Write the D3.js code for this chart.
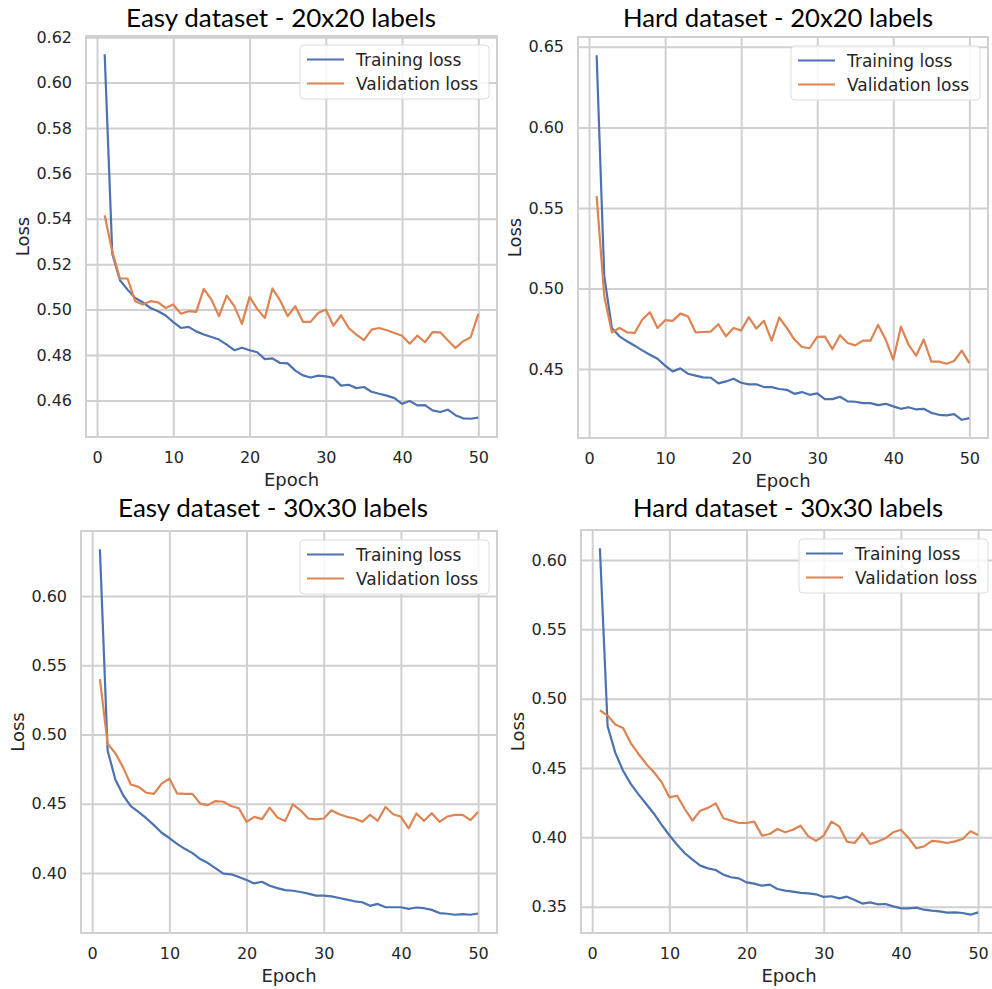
<!DOCTYPE html>
<html>
<head>
<meta charset="utf-8">
<script src="https://cdn.jsdelivr.net/npm/d3@7"></script>
<style>
  body { margin: 0; background: #fff; }
  svg { display: block; }
</style>
</head>
<body>
<div id="chart"></div>
<script>
// values (epochs 1..50)
const titles = [
  'Easy dataset - 20x20 labels',
  'Hard dataset - 20x20 labels',
  'Easy dataset - 30x30 labels',
  'Hard dataset - 30x30 labels'
];
const seriesNames = ['Training loss', 'Validation loss'];
const xTicks = [0, 10, 20, 30, 40, 50];

const easy20Train = [
  0.6125, 0.5245, 0.5129, 0.5088, 0.5051, 0.5032, 0.5007, 0.4993, 0.4974, 0.4945,
  0.4919, 0.4924, 0.4904, 0.4890, 0.4879, 0.4868, 0.4846, 0.4821, 0.4832, 0.4821,
  0.4812, 0.4782, 0.4785, 0.4765, 0.4763, 0.4731, 0.4710, 0.4701, 0.4709, 0.4706,
  0.4699, 0.4665, 0.4669, 0.4654, 0.4659, 0.4638, 0.4629, 0.4621, 0.4610, 0.4585,
  0.4597, 0.4578, 0.4579, 0.4556, 0.4549, 0.4559, 0.4535, 0.4521, 0.4519, 0.4524
];
const easy20Val = [
  0.5416, 0.5255, 0.5137, 0.5137, 0.5037, 0.5022, 0.5037, 0.5032, 0.5007, 0.5022,
  0.4982, 0.4993, 0.4990, 0.5091, 0.5044, 0.4971, 0.5062, 0.5015, 0.4937, 0.5056,
  0.5003, 0.4963, 0.5093, 0.5041, 0.4971, 0.5015, 0.4946, 0.4946, 0.4985, 0.5000,
  0.4929, 0.4975, 0.4919, 0.4890, 0.4865, 0.4912, 0.4919, 0.4909, 0.4897, 0.4885,
  0.4850, 0.4885, 0.4856, 0.4901, 0.4900, 0.4865, 0.4831, 0.4860, 0.4878, 0.4981
];
const hard20Train = [
  0.6448, 0.5077, 0.4755, 0.4703, 0.4672, 0.4645, 0.4616, 0.4589, 0.4564, 0.4521,
  0.4485, 0.4504, 0.4471, 0.4459, 0.4448, 0.4446, 0.4411, 0.4423, 0.4440, 0.4415,
  0.4405, 0.4405, 0.4388, 0.4388, 0.4376, 0.4371, 0.4346, 0.4357, 0.4340, 0.4349,
  0.4313, 0.4313, 0.4328, 0.4299, 0.4297, 0.4288, 0.4288, 0.4276, 0.4284, 0.4268,
  0.4253, 0.4263, 0.4249, 0.4253, 0.4228, 0.4216, 0.4212, 0.4220, 0.4185, 0.4195
];
const hard20Val = [
  0.5573, 0.4952, 0.4728, 0.4755, 0.4728, 0.4724, 0.4807, 0.4853, 0.4755, 0.4803,
  0.4799, 0.4844, 0.4828, 0.4728, 0.4730, 0.4732, 0.4778, 0.4703, 0.4755, 0.4739,
  0.4822, 0.4751, 0.4799, 0.4676, 0.4820, 0.4755, 0.4683, 0.4637, 0.4629, 0.4699,
  0.4701, 0.4624, 0.4710, 0.4662, 0.4647, 0.4676, 0.4676, 0.4774, 0.4683, 0.4558,
  0.4763, 0.4651, 0.4583, 0.4683, 0.4546, 0.4546, 0.4533, 0.4550, 0.4614, 0.4537
];
const easy30Train = [
  0.6337, 0.4884, 0.4674, 0.4562, 0.4483, 0.4440, 0.4395, 0.4345, 0.4290, 0.4252,
  0.4210, 0.4174, 0.4143, 0.4100, 0.4071, 0.4033, 0.3995, 0.3990, 0.3971, 0.3948,
  0.3924, 0.3936, 0.3907, 0.3890, 0.3876, 0.3871, 0.3862, 0.3850, 0.3836, 0.3836,
  0.3831, 0.3819, 0.3807, 0.3795, 0.3788, 0.3762, 0.3776, 0.3752, 0.3752, 0.3752,
  0.3740, 0.3750, 0.3745, 0.3733, 0.3710, 0.3705, 0.3698, 0.3702, 0.3698, 0.3707
];
const easy30Val = [
  0.5399, 0.4933, 0.4864, 0.4762, 0.4638, 0.4621, 0.4579, 0.4571, 0.4645, 0.4681,
  0.4574, 0.4571, 0.4571, 0.4500, 0.4490, 0.4519, 0.4514, 0.4483, 0.4467, 0.4369,
  0.4405, 0.4388, 0.4471, 0.4400, 0.4374, 0.4495, 0.4452, 0.4393, 0.4386, 0.4393,
  0.4452, 0.4424, 0.4405, 0.4393, 0.4369, 0.4419, 0.4376, 0.4476, 0.4424, 0.4405,
  0.4321, 0.4429, 0.4376, 0.4431, 0.4369, 0.4407, 0.4419, 0.4419, 0.4381, 0.4440
];
const hard30Train = [
  0.6084, 0.4801, 0.4609, 0.4480, 0.4385, 0.4310, 0.4240, 0.4170, 0.4090, 0.4015,
  0.3946, 0.3885, 0.3839, 0.3796, 0.3776, 0.3764, 0.3731, 0.3712, 0.3704, 0.3675,
  0.3666, 0.3651, 0.3659, 0.3627, 0.3615, 0.3608, 0.3599, 0.3596, 0.3589, 0.3570,
  0.3575, 0.3560, 0.3572, 0.3548, 0.3522, 0.3531, 0.3517, 0.3519, 0.3502, 0.3488,
  0.3488, 0.3493, 0.3478, 0.3471, 0.3466, 0.3457, 0.3459, 0.3454, 0.3442, 0.3459
];
const hard30Val = [
  0.4916, 0.4878, 0.4813, 0.4789, 0.4680, 0.4601, 0.4529, 0.4469, 0.4397, 0.4288,
  0.4300, 0.4204, 0.4120, 0.4192, 0.4212, 0.4245, 0.4137, 0.4120, 0.4103, 0.4103,
  0.4113, 0.4012, 0.4024, 0.4060, 0.4036, 0.4055, 0.4084, 0.4007, 0.3974, 0.4012,
  0.4113, 0.4079, 0.3969, 0.3959, 0.4029, 0.3952, 0.3969, 0.3993, 0.4036, 0.4055,
  0.3995, 0.3921, 0.3935, 0.3974, 0.3969, 0.3959, 0.3971, 0.3988, 0.4043, 0.4017
];

const yTicksEasy20 = [0.46, 0.48, 0.50, 0.52, 0.54, 0.56, 0.58, 0.60, 0.62];
const yTicksHard20 = [0.45, 0.50, 0.55, 0.60, 0.65];
const yTicksEasy30 = [0.40, 0.45, 0.50, 0.55, 0.60];
const yTicksHard30 = [0.35, 0.40, 0.45, 0.50, 0.55, 0.60];

const colors = ['#4c72b0', '#dd8452'];
const textColor = '#262626';
const gridColor = '#d0d0d0';

// each subplot was saved separately, so every one has its own frame
const panels = [
  { title: titles[0], series: [easy20Train, easy20Val], yTicks: yTicksEasy20,
    box: { left: 86, top: 36, right: 497, bottom: 437 }, titleX: 281, titleY: 17 },
  { title: titles[1], series: [hard20Train, hard20Val], yTicks: yTicksHard20,
    box: { left: 578, top: 37, right: 988, bottom: 438 }, titleX: 778, titleY: 17 },
  { title: titles[2], series: [easy30Train, easy30Val], yTicks: yTicksEasy30,
    box: { left: 81, top: 531, right: 497, bottom: 933 }, titleX: 273, titleY: 507 },
  { title: titles[3], series: [hard30Train, hard30Val], yTicks: yTicksHard30,
    box: { left: 581, top: 530, right: 997, bottom: 933 }, titleX: 788, titleY: 507 }
];

const svg = d3.select('#chart')
  .append('svg')
  .attr('width', 992)
  .attr('height', 989)
  .style('font-family', '"DejaVu Sans", sans-serif');

panels.forEach((p) => {
  const b = p.box;
  const n = p.series[0].length;
  const all = p.series.flat();
  const [lo, hi] = d3.extent(all);
  const pad = (hi - lo) * 0.05;
  const xPad = (n - 1) * 0.05;

  const x = d3.scaleLinear().domain([1 - xPad, n + xPad]).range([b.left, b.right]);
  const y = d3.scaleLinear().domain([lo - pad, hi + pad]).range([b.bottom, b.top]);

  const g = svg.append('g');

  // X grid + tick labels
  g.append('g')
    .attr('transform', `translate(0, ${b.bottom})`)
    .call(d3.axisBottom(x).tickValues(xTicks).tickSize(-(b.bottom - b.top)).tickPadding(15).tickFormat(d3.format('d')))
    .call((a) => a.select('.domain').remove())
    .call((a) => a.selectAll('line').attr('stroke', gridColor).attr('stroke-width', 2))
    .call((a) => a.selectAll('text').attr('fill', textColor).style('font-size', '16px').style('font-family', '"DejaVu Sans", sans-serif'));

  // Y grid + tick labels
  g.append('g')
    .attr('transform', `translate(${b.left}, 0)`)
    .call(d3.axisLeft(y).tickValues(p.yTicks).tickSize(-(b.right - b.left)).tickPadding(14).tickFormat(d3.format('.2f')))
    .call((a) => a.select('.domain').remove())
    .call((a) => a.selectAll('line').attr('stroke', gridColor).attr('stroke-width', 2))
    .call((a) => a.selectAll('text').attr('fill', textColor).style('font-size', '16px').style('font-family', '"DejaVu Sans", sans-serif'));

  // frame
  g.append('rect')
    .attr('x', b.left)
    .attr('y', b.top)
    .attr('width', b.right - b.left)
    .attr('height', b.bottom - b.top)
    .attr('fill', 'none')
    .attr('stroke', gridColor)
    .attr('stroke-width', 2);

  // loss curves
  const line = d3.line().x((d, i) => x(i + 1)).y((d) => y(d));
  p.series.forEach((s, k) => {
    g.append('path')
      .datum(s)
      .attr('fill', 'none')
      .attr('stroke', colors[k])
      .attr('stroke-width', 2.2)
      .attr('stroke-linejoin', 'round')
      .attr('d', line);
  });

  // axis labels
  g.append('text')
    .attr('x', (b.left + b.right) / 2)
    .attr('y', b.bottom + 42)
    .attr('text-anchor', 'middle')
    .attr('dominant-baseline', 'central')
    .attr('fill', textColor)
    .style('font-size', '18px')
    .text('Epoch');

  g.append('text')
    .attr('transform', `translate(${b.left - 64}, ${(b.top + b.bottom) / 2}) rotate(-90)`)
    .attr('text-anchor', 'middle')
    .attr('dominant-baseline', 'central')
    .attr('fill', textColor)
    .style('font-size', '18px')
    .text('Loss');

  // title
  g.append('text')
    .attr('x', p.titleX)
    .attr('y', p.titleY)
    .attr('text-anchor', 'middle')
    .attr('dominant-baseline', 'central')
    .attr('fill', '#000')
    .style('font-family', 'Lato, "Open Sans", sans-serif')
    .style('font-size', '25px')
    .attr('textLength', 310)
    .attr('lengthAdjust', 'spacingAndGlyphs')
    .text(p.title);

  // legend, upper right
  const lw = 189, lh = 54;
  const lx = Math.min(b.right, 996) - 8 - lw;
  const ly = b.top + 9;
  const leg = g.append('g').attr('transform', `translate(${lx}, ${ly})`);
  leg.append('rect')
    .attr('width', lw)
    .attr('height', lh)
    .attr('rx', 4)
    .attr('fill', '#fff')
    .attr('fill-opacity', 0.8)
    .attr('stroke', '#dcdcdc')
    .attr('stroke-width', 1);
  seriesNames.forEach((name, k) => {
    const ry = 14.5 + k * 24;
    leg.append('line')
      .attr('x1', 7).attr('x2', 44)
      .attr('y1', ry).attr('y2', ry)
      .attr('stroke', colors[k])
      .attr('stroke-width', 2.2);
    leg.append('text')
      .attr('x', 56)
      .attr('y', ry)
      .attr('dominant-baseline', 'central')
      .attr('fill', textColor)
      .style('font-size', '17px')
      .text(name);
  });
});
</script>
</body>
</html>
